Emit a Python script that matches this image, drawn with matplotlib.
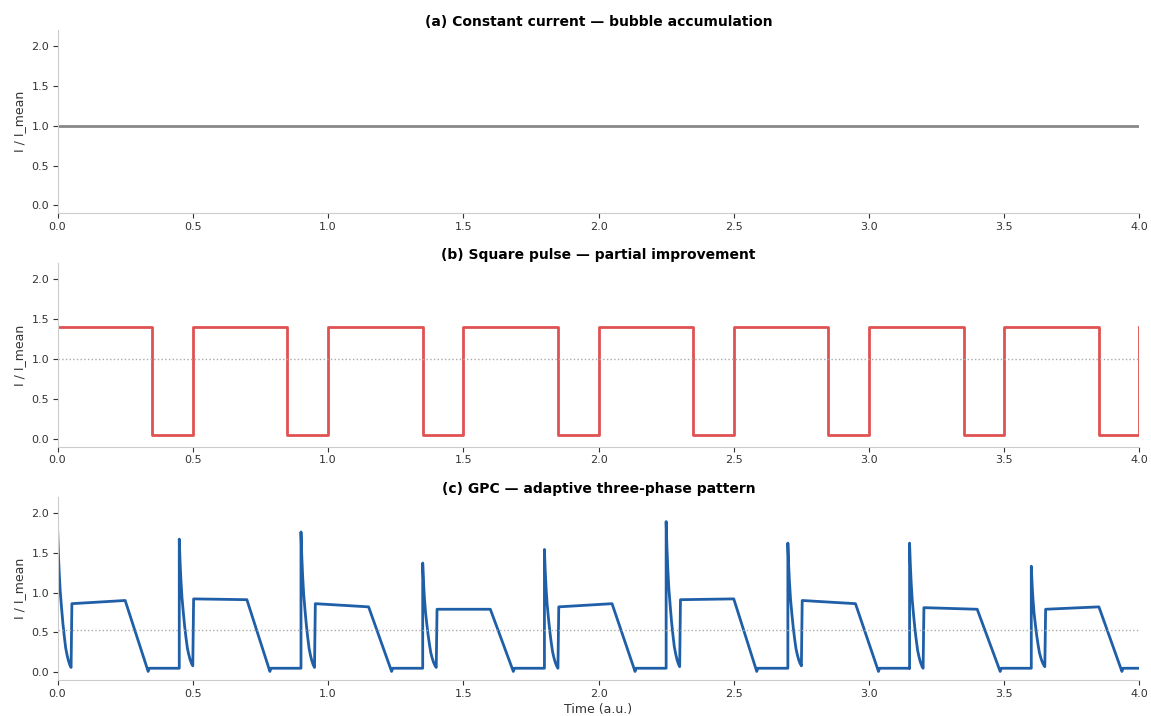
import numpy as np
import matplotlib.pyplot as plt

# time axis limits
t_end = 4.0

# (a) constant current
const_level = 1.0

# (b) square pulse
sq_period = 0.5
sq_on = 0.35
sq_high = 1.4
sq_low = 0.05
sq_mean = 1.0

# (c) GPC, one entry per cycle
gpc_start = [0.0, 0.45, 0.90, 1.35, 1.80, 2.25, 2.70, 3.15, 3.60]
gpc_peak = [1.82, 1.67, 1.76, 1.37, 1.54, 1.89, 1.62, 1.62, 1.33]
gpc_decay_end = [0.06, 0.08, 0.06, 0.06, 0.05, 0.07, 0.08, 0.05, 0.07]
gpc_plat_start = [0.86, 0.92, 0.86, 0.79, 0.82, 0.91, 0.90, 0.81, 0.79]
gpc_plat_end = [0.90, 0.91, 0.82, 0.79, 0.86, 0.92, 0.86, 0.79, 0.82]
gpc_dip = 0.01
gpc_floor = 0.05
gpc_mean = 0.53
# phase times inside a cycle
ph_decay = 0.05
ph_plat = 0.25
ph_ramp = 0.335
ph_cycle = 0.45
# decay shape of the spike (fraction of peak above the decay end)
decay_dt = [0, 0.003, 0.006, 0.01, 0.015, 0.02, 0.025, 0.03, 0.035, 0.04, 0.045, 0.05]
decay_frac = [1, 0.82, 0.68, 0.54, 0.42, 0.31, 0.22, 0.14, 0.09, 0.05, 0.02, 0]

# build GPC trace
gt, gv = [], []
for i, t0 in enumerate(gpc_start):
    gt.append(t0); gv.append(gpc_floor)
    for dt, f in zip(decay_dt, decay_frac):
        gt.append(t0 + dt)
        gv.append(gpc_decay_end[i] + (gpc_peak[i] - gpc_decay_end[i]) * f)
    gt += [t0 + ph_decay + 0.003, t0 + ph_plat, t0 + ph_ramp, t0 + ph_ramp + 0.004]
    gv += [gpc_plat_start[i], gpc_plat_end[i], gpc_dip, gpc_floor]
    gt.append(min(t0 + ph_cycle, t_end)); gv.append(gpc_floor)

# build square trace
st, sv = [], []
for k in range(int(t_end / sq_period)):
    t0 = k * sq_period
    st += [t0, t0 + sq_on, t0 + sq_on, t0 + sq_period]
    sv += [sq_high, sq_high, sq_low, sq_low]
st += [t_end]; sv += [sq_high]

fig, axes = plt.subplots(3, 1, figsize=(11.51, 7.16), dpi=100)
fig.subplots_adjust(left=0.05, right=0.99, top=0.958, bottom=0.05, hspace=0.273)

titles = ["(a) Constant current — bubble accumulation",
          "(b) Square pulse — partial improvement",
          "(c) GPC — adaptive three-phase pattern"]

axes[0].plot([0, t_end], [const_level, const_level], color='#888888', linewidth=2)
axes[1].plot(st, sv, color='#e05252', linewidth=2)
axes[1].axhline(sq_mean, color='#aaaaaa', linestyle=':', linewidth=1)
axes[2].plot(gt, gv, color='#1f5fa8', linewidth=2)
axes[2].axhline(gpc_mean, color='#aaaaaa', linestyle=':', linewidth=1)

for ax, title in zip(axes, titles):
    ax.set_title(title, fontsize=10, fontweight='bold', pad=3)
    ax.set_xlim(0, t_end)
    ax.set_ylim(-0.1, 2.2)
    ax.set_xticks(np.arange(0, 4.01, 0.5))
    ax.set_yticks([0, 0.5, 1.0, 1.5, 2.0])
    ax.set_ylabel("I / I_mean", fontsize=9, color='#333333')
    ax.tick_params(labelsize=8, colors='#333333', pad=2.5)
    for s in ['top', 'right']:
        ax.spines[s].set_visible(False)
    for s in ['left', 'bottom']:
        ax.spines[s].set_color('#cccccc')

axes[2].set_xlabel("Time (a.u.)", fontsize=9, color='#333333', labelpad=3)

fig.savefig("out.png")
